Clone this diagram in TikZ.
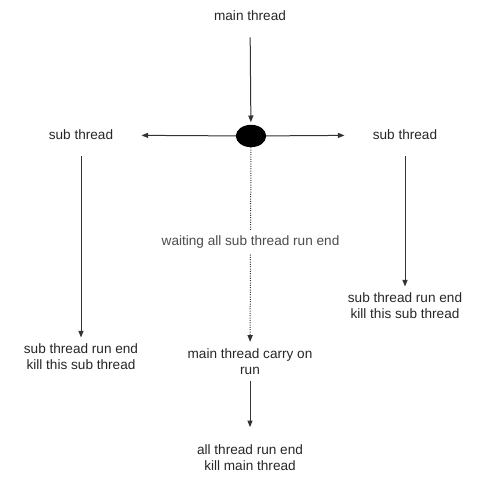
\documentclass[tikz,border=0pt]{standalone}
\usepackage{fontspec}
\setsansfont{Liberation Sans}
\usetikzlibrary{arrows.meta,shapes.geometric}

\begin{document}
\begin{tikzpicture}[
  x=0.75pt,y=-0.75pt,
  line width=0.75pt,
  every node/.style={font=\sffamily\fontsize{10.2}{12}\selectfont},
  thr/.style={text=black!85,align=center,inner sep=0pt},
  side/.style={thr,minimum width=90pt},
  waitlbl/.style={text=black!70,fill=white,inner xsep=1pt,inner ysep=4pt},
  flow/.style={draw=black!80,-{Triangle[length=5pt,width=3.8pt]}},
  waitflow/.style={flow,densely dotted},
  forkdot/.style={ellipse,fill=black,draw=black,
    minimum width=22pt,minimum height=16pt,inner sep=0pt}
]

\useasboundingbox (0,0) rectangle (481,493);

% ==================================================
% 主スレッドと分岐点
% ==================================================
\node[thr] (main) at (250,16) {main thread};
\node[forkdot] (fork) at (251,136) {};

\draw[flow,shorten <=12pt,shorten >=2pt] (main) -- (fork);

% ==================================================
% サブスレッド（左・右）
% ==================================================
\node[side] (subL) at (81,135) {sub thread};
\node[side] (subR) at (405,135) {sub thread};

\draw[flow] (fork) -- (subL);
\draw[flow] (fork) -- (subR);

% 終了
\node[thr] (endL) at (81,357) {sub thread run end\\kill this sub thread};
\node[thr] (endR) at (405,306) {sub thread run end\\kill this sub thread};

\draw[flow,shorten <=12pt,shorten >=4.5pt] (subL) -- (endL);
\draw[flow,shorten <=12pt,shorten >=4.5pt] (subR) -- (endR);

% ==================================================
% 主スレッドの待機と継続
% ==================================================
\node[thr] (carry) at (250,362) {main thread carry on\\run};
\node[thr] (allend) at (250,458) {all thread run end\\kill main thread};

\draw[waitflow,shorten >=5pt]
  (fork) -- node[waitlbl,pos=0.47] (wait)
    {waiting all sub thread run end} (carry);

\draw[flow,shorten <=4pt,shorten >=13pt] (carry) -- (allend);

\end{tikzpicture}
\end{document}
